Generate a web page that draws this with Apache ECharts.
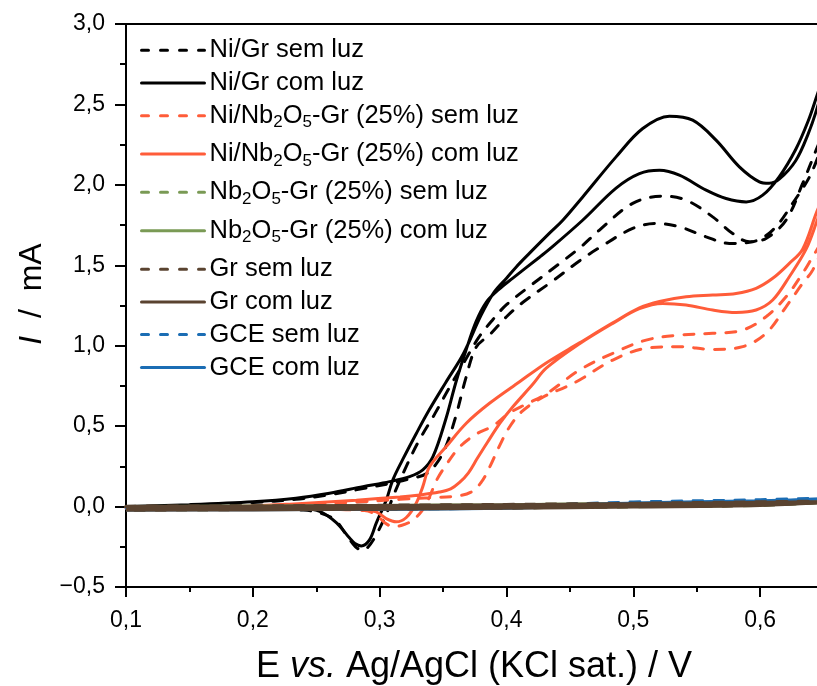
<!DOCTYPE html>
<html>
<head>
<meta charset="utf-8">
<script src="https://cdn.jsdelivr.net/npm/echarts@6/dist/echarts.min.js"></script>
<style>
  html, body { margin: 0; padding: 0; background: #ffffff; }
  #chart { width: 817px; height: 686px; }
</style>
</head>
<body>
<div id="chart"></div>
<script>
// ---------- data (E / V, I / mA), each CV loop in scan order ----------
const seriesNames = [
  'Ni/Gr sem luz', 'Ni/Gr com luz',
  'Ni/Nb2O5-Gr (25%) sem luz', 'Ni/Nb2O5-Gr (25%) com luz',
  'Nb2O5-Gr (25%) sem luz', 'Nb2O5-Gr (25%) com luz',
  'Gr sem luz', 'Gr com luz',
  'GCE sem luz', 'GCE com luz'
];

const niGrSem = [
  [0.100,-0.002],[0.150,0.008],[0.200,0.025],[0.234,0.045],[0.2605,0.074],[0.2868,0.112],
  [0.3078,0.143],[0.3236,0.172],[0.337,0.205],[0.345,0.27],[0.352,0.37],[0.360,0.56],
  [0.368,0.80],[0.376,0.99],[0.387,1.07],[0.400,1.18],[0.413,1.27],[0.436,1.40],[0.458,1.53],
  [0.4733,1.61],[0.4995,1.729],[0.518,1.760],[0.5363,1.739],[0.5574,1.677],[0.5757,1.636],
  [0.5941,1.646],[0.6099,1.719],[0.6256,1.885],[0.6414,2.091],[0.662,2.55],
  [0.6441,2.216],[0.6335,2.009],[0.6204,1.781],[0.6046,1.667],[0.5915,1.646],[0.5783,1.698],
  [0.5626,1.801],[0.5416,1.905],[0.5232,1.930],[0.4995,1.885],[0.4733,1.719],[0.458,1.61],
  [0.440,1.50],[0.420,1.38],[0.400,1.255],[0.389,1.16],[0.378,1.05],[0.366,0.89],[0.355,0.74],
  [0.343,0.57],[0.331,0.41],[0.321,0.25],[0.312,0.09],[0.305,-0.05],[0.297,-0.18],
  [0.2905,-0.255],[0.2868,-0.272],[0.281,-0.25],[0.2737,-0.175],[0.265,-0.085],[0.255,-0.045],
  [0.240,-0.022],[0.200,-0.016],[0.150,-0.012],[0.100,-0.010]
];

const niGrCom = [
  [0.100,0.000],[0.150,0.012],[0.200,0.030],[0.234,0.052],[0.2605,0.083],[0.2868,0.124],
  [0.3078,0.155],[0.3236,0.186],[0.334,0.228],[0.342,0.31],[0.352,0.54],[0.360,0.77],
  [0.368,0.97],[0.376,1.15],[0.384,1.27],[0.394,1.35],[0.405,1.42],[0.426,1.55],[0.4339,1.60],
  [0.460,1.78],[0.4864,1.98],[0.5048,2.07],[0.5206,2.091],[0.5363,2.06],[0.5574,1.967],
  [0.5731,1.915],[0.589,1.894],[0.602,1.936],[0.615,2.05],[0.628,2.22],[0.638,2.40],
  [0.645,2.56],[0.662,2.95],
  [0.645,2.48],[0.638,2.32],[0.628,2.15],[0.615,2.035],[0.607,2.01],[0.5994,2.019],
  [0.5836,2.112],[0.5652,2.278],[0.5468,2.402],[0.5284,2.427],[0.5074,2.350],[0.4864,2.174],
  [0.4601,1.925],[0.4444,1.78],[0.4339,1.70],[0.418,1.574],[0.4077,1.49],[0.400,1.42],
  [0.390,1.33],[0.380,1.19],[0.366,0.95],[0.352,0.77],[0.339,0.60],[0.329,0.456],[0.318,0.29],
  [0.3104,0.166],[0.3052,0.04],[0.2973,-0.103],[0.292,-0.207],[0.2855,-0.245],[0.2805,-0.23],
  [0.2763,-0.196],[0.2658,-0.10],[0.2527,-0.03],[0.240,-0.014],[0.200,-0.010],[0.150,-0.008],
  [0.100,-0.005]
];

const niNbSem = [
  [0.100,-0.010],[0.150,-0.006],[0.200,0.000],[0.250,0.012],[0.2816,0.028],[0.316,0.045],
  [0.340,0.055],[0.360,0.065],[0.372,0.09],[0.380,0.15],[0.387,0.25],[0.394,0.37],[0.402,0.49],
  [0.412,0.59],[0.4286,0.68],[0.447,0.745],[0.4576,0.787],[0.4838,0.911],[0.5101,0.984],
  [0.5363,0.994],[0.5626,0.977],[0.5862,0.994],[0.6046,1.077],[0.6204,1.242],[0.6335,1.388],
  [0.6414,1.47],[0.662,1.82],
  [0.6414,1.553],[0.6335,1.450],[0.6204,1.304],[0.6046,1.180],[0.5862,1.097],[0.5626,1.077],
  [0.5363,1.066],[0.5101,1.035],[0.4838,0.953],[0.4576,0.849],[0.4313,0.70],[0.415,0.635],
  [0.402,0.58],[0.389,0.50],[0.376,0.45],[0.363,0.37],[0.3525,0.26],[0.3446,0.16],[0.3393,0.06],
  [0.333,-0.03],[0.325,-0.09],[0.317,-0.118],[0.3104,-0.124],[0.304,-0.10],[0.297,-0.05],
  [0.288,-0.025],[0.250,-0.016],[0.200,-0.014],[0.100,-0.012]
];

const niNbCom = [
  [0.100,-0.008],[0.150,-0.004],[0.200,0.004],[0.229,0.015],[0.2816,0.040],[0.316,0.060],
  [0.3315,0.072],[0.347,0.090],[0.356,0.11],[0.363,0.15],[0.370,0.21],[0.377,0.30],[0.385,0.40],
  [0.395,0.52],[0.405,0.62],[0.4207,0.76],[0.4313,0.86],[0.4576,1.012],[0.4838,1.139],
  [0.5048,1.23],[0.5232,1.263],[0.5416,1.253],[0.5626,1.222],[0.581,1.207],[0.5968,1.222],
  [0.6099,1.284],[0.623,1.429],[0.6362,1.60],[0.645,1.78],[0.662,2.15],
  [0.645,1.84],[0.6335,1.60],[0.623,1.512],[0.6099,1.419],[0.5968,1.357],[0.581,1.325],
  [0.5626,1.315],[0.5416,1.304],[0.5206,1.275],[0.5048,1.235],[0.4838,1.142],[0.4576,1.018],
  [0.4313,0.893],[0.4103,0.776],[0.3866,0.642],[0.3683,0.518],[0.3525,0.373],[0.3393,0.248],
  [0.334,0.124],[0.3288,0.021],[0.321,-0.068],[0.313,-0.095],[0.3052,-0.075],[0.2973,-0.033],
  [0.285,-0.016],[0.250,-0.012],[0.200,-0.012],[0.150,-0.012],[0.100,-0.012]
];

const nbSem = [
  [0.100,-0.002],[0.200,0.001],[0.300,0.005],[0.400,0.010],[0.500,0.017],[0.600,0.025],[0.662,0.031],
  [0.600,0.008],[0.500,-0.001],[0.400,-0.008],[0.300,-0.014],[0.200,-0.018],[0.100,-0.021]
];
const nbCom = [
  [0.100,0.000],[0.200,0.003],[0.300,0.007],[0.400,0.012],[0.500,0.019],[0.600,0.027],[0.662,0.033],
  [0.600,0.010],[0.500,0.001],[0.400,-0.006],[0.300,-0.012],[0.200,-0.016],[0.100,-0.019]
];
const grSem = [
  [0.100,0.001],[0.200,0.003],[0.300,0.007],[0.400,0.012],[0.500,0.019],[0.600,0.028],[0.662,0.034],
  [0.600,0.010],[0.500,0.001],[0.400,-0.007],[0.300,-0.013],[0.200,-0.017],[0.100,-0.020]
];
const grCom = [
  [0.100,-0.001],[0.200,0.001],[0.300,0.005],[0.400,0.010],[0.500,0.017],[0.600,0.025],[0.662,0.031],
  [0.600,0.008],[0.500,-0.001],[0.400,-0.009],[0.300,-0.015],[0.200,-0.019],[0.100,-0.022]
];
const gceSem = [
  [0.100,-0.010],[0.200,-0.008],[0.300,-0.006],[0.400,0.004],[0.500,0.030],[0.600,0.044],[0.662,0.058],
  [0.600,0.030],[0.500,0.012],[0.400,-0.010],[0.300,-0.017],[0.200,-0.019],[0.100,-0.021]
];
const gceCom = [
  [0.100,-0.012],[0.200,-0.010],[0.300,-0.008],[0.400,0.000],[0.500,0.024],[0.600,0.038],[0.662,0.052],
  [0.600,0.026],[0.500,0.008],[0.400,-0.012],[0.300,-0.019],[0.200,-0.021],[0.100,-0.023]
];

const seriesData = [niGrSem, niGrCom, niNbSem, niNbCom, nbSem, nbCom, grSem, grCom, gceSem, gceCom];

// ---------- styles ----------
const FONT = "'Liberation Sans', Arial, Helvetica, sans-serif";
const colors = ['#000000','#000000','#ff5c39','#ff5c39','#7a9a55','#7a9a55','#5a4330','#5a4330','#1b6db4','#1b6db4'];
const dashedFlags = [true,false,true,false,true,false,true,false,true,false];
const lineWidths = [3,3,3,3,3,3,3.5,3.5,2.5,2.5];
const zOrder = [2,2,2,2,2,2,4,4,3,3];
const legendCenters = [50, 82.7, 115.7, 154, 192.3, 230.7, 269, 301.7, 334.3, 367.3];

function fmtNum(v) {
  const s = Math.abs(v).toFixed(1).replace('.', ',');
  return v < -1e-9 ? '\u2212' + s : s;
}
function legendText(name) {
  if (name.indexOf('Nb2O5') < 0) return name;
  const parts = name.split('Nb2O5');
  return '{m|' + parts[0] + 'Nb}{s|2}{m|O}{s|5}{m|' + parts[1] + '}';
}

const legends = seriesNames.map(function (n, i) {
  const hasSub = n.indexOf('Nb2O5') >= 0;
  return {
    data: [n],
    left: 140,
    top: legendCenters[i] - (hasSub ? 15.5 : 12.75),
    padding: 0,
    itemWidth: 63,
    itemHeight: 14,
    selectedMode: false,
    formatter: legendText,
    itemStyle: { color: 'rgba(0,0,0,0)', borderColor: 'rgba(0,0,0,0)', borderWidth: 0, opacity: 0 },
    lineStyle: { color: colors[i], width: 3, type: dashedFlags[i] ? [7, 12] : 'solid', cap: 'round', opacity: 1 },
    textStyle: {
      color: '#000', fontSize: 25.5, fontFamily: FONT, lineHeight: 25.5,
      rich: {
        m: { color: '#000', fontSize: 25.5, fontFamily: FONT, lineHeight: 31, verticalAlign: 'middle' },
        s: { color: '#000', fontSize: 17, fontFamily: FONT, lineHeight: 17, verticalAlign: 'bottom' }
      }
    }
  };
});

const series = seriesNames.map(function (n, i) {
  return {
    name: n,
    type: 'line',
    data: seriesData[i],
    symbol: 'none',
    showSymbol: false,
    smooth: 0.35,
    z: zOrder[i],
    color: colors[i],
    lineStyle: {
      color: colors[i],
      width: lineWidths[i],
      type: dashedFlags[i] ? [10, 11] : 'solid',
      cap: dashedFlags[i] ? 'round' : 'butt'
    },
    emphasis: { disabled: true },
    animation: false
  };
});

const chart = echarts.init(document.getElementById('chart'), null, { renderer: 'canvas' });
chart.setOption({
  backgroundColor: '#ffffff',
  animation: false,
  grid: {
    left: 126, right: -70, top: 24, bottom: 99,
    show: true, borderColor: '#000', borderWidth: 2, backgroundColor: 'transparent',
    containLabel: false, outerBoundsMode: 'none'
  },
  legend: legends,
  xAxis: {
    type: 'value', min: 0.1, max: 0.7, interval: 0.1,
    axisLine: { show: true, onZero: false, lineStyle: { color: '#000', width: 2 } },
    axisTick: { show: true, length: 10, lineStyle: { color: '#000', width: 2 } },
    minorTick: { show: true, splitNumber: 2, length: 5, lineStyle: { color: '#000', width: 2 } },
    splitLine: { show: false }, minorSplitLine: { show: false },
    axisLabel: { color: '#000', fontSize: 23, fontFamily: FONT, margin: 22, formatter: fmtNum, showMaxLabel: false },
    name: '{n|E }{i|vs.}{n| Ag/AgCl (KCl sat.) / V}',
    nameLocation: 'middle', nameGap: 62,
    nameTextStyle: {
      color: '#000', fontSize: 36, fontFamily: FONT, padding: [0, 65, 0, 0],
      rich: {
        n: { color: '#000', fontSize: 36, fontFamily: FONT },
        i: { color: '#000', fontSize: 36, fontFamily: FONT, fontStyle: 'italic' }
      }
    }
  },
  yAxis: {
    type: 'value', min: -0.5, max: 3.0, interval: 0.5,
    axisLine: { show: true, onZero: false, lineStyle: { color: '#000', width: 2 } },
    axisTick: { show: true, length: 11, lineStyle: { color: '#000', width: 2 } },
    minorTick: { show: true, splitNumber: 2, length: 6, lineStyle: { color: '#000', width: 2 } },
    splitLine: { show: false }, minorSplitLine: { show: false },
    axisLabel: { color: '#000', fontSize: 23, fontFamily: FONT, margin: 21, formatter: fmtNum },
    name: '{i|I}{n|  /  mA}',
    nameLocation: 'middle', nameGap: 78,
    nameTextStyle: {
      color: '#000', fontSize: 32, fontFamily: FONT, padding: [0, 0, 0, 23],
      rich: {
        n: { color: '#000', fontSize: 32, fontFamily: FONT },
        i: { color: '#000', fontSize: 32, fontFamily: FONT, fontStyle: 'italic' }
      }
    }
  },
  series: series
});
</script>
</body>
</html>
